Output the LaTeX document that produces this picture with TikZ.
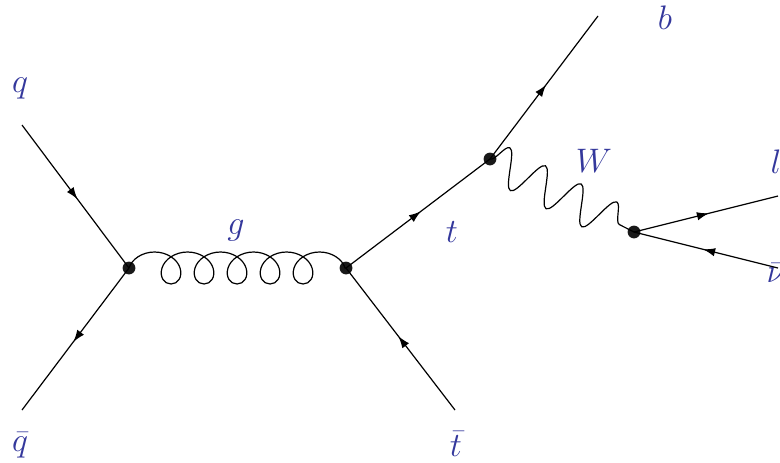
\RequirePackage{fix-cm}
\documentclass[tikz,border=0pt]{standalone}
\usetikzlibrary{arrows.meta,decorations.pathmorphing,decorations.markings}
\definecolor{labelblue}{RGB}{52,56,156}
\begin{document}
\begin{tikzpicture}[
        x=0.5pt, y=-0.5pt,
        font=\fontsize{17}{20}\selectfont,
        vertex/.style={circle, fill=black!90, inner sep=0pt, minimum size=6.4pt},
        ext/.style={inner sep=0pt, minimum size=0pt},
        lbl/.style={text=labelblue, inner sep=0pt},
        fermion/.style={draw=black, line width=0.6pt, postaction={decorate},
            decoration={markings, mark=at position 0.52 with {\arrow{Latex[length=6pt,width=4.2pt]}}}},
        gluon/.style={draw=black, line width=0.6pt, decorate,
            decoration={coil, amplitude=8pt, segment length=16.5pt, aspect=1.08}},
        boson/.style={draw=black, line width=0.6pt, decorate,
            decoration={snake, amplitude=9.5pt, segment length=20pt}}
    ]
    \useasboundingbox (0,0) rectangle (780,462);

    % vertices
    \node[vertex] (vqq) at (129,268) {};
    \node[vertex] (vtt) at (346,268) {};
    \node[vertex] (vtop) at (490,159) {};
    \node[vertex] (vw) at (634,232) {};

    % external ends
    \node[ext] (qin) at (22,125) {};
    \node[ext] (qbarout) at (22,410) {};
    \node[ext] (tbarout) at (455,410) {};
    \node[ext] (bout) at (598,16) {};
    \node[ext] (lout) at (778,196) {};
    \node[ext] (nuout) at (778,268) {};

    % labels
    \node[lbl] (qlabel) at (20,88) {$q$};
    \node[lbl] (qbarlabel) at (20,445) {$\bar{q}$};
    \node[lbl] (glabel) at (236,230) {$g$};
    \node[lbl] (tlabel) at (452,232) {$t$};
    \node[lbl] (tbarlabel) at (456,444) {$\bar{t}$};
    \node[lbl] (blabel) at (665,18) {$b$};
    \node[lbl] (wlabel) at (594,161) {$W$};
    \node[lbl] (llabel) at (776,162) {$l$};
    \node[lbl] (nulabel) at (776,273) {$\bar{\nu}$};

    % lines
    \draw[fermion] (qin.center) -- (vqq.center);
    \draw[fermion] (vqq.center) -- (qbarout.center);
    \draw[gluon] (vqq.center) -- (vtt.center);
    \draw[fermion] (vtt.center) -- (vtop.center);
    \draw[fermion] (tbarout.center) -- (vtt.center);
    \draw[fermion] (vtop.center) -- (bout.center);
    \draw[boson] (vtop.center) -- (vw.center);
    \draw[fermion] (vw.center) -- (lout.center);
    \draw[fermion] (nuout.center) -- (vw.center);
\end{tikzpicture}
\end{document}
